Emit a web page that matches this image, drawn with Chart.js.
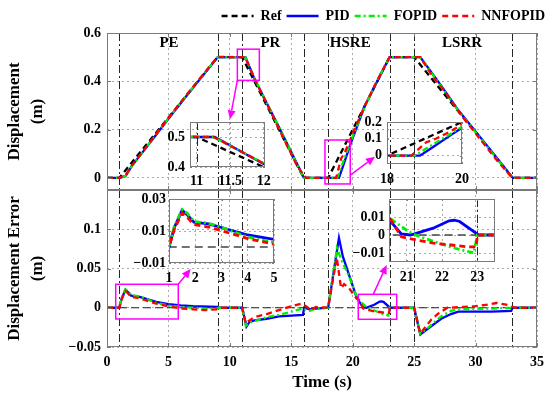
<!DOCTYPE html>
<html>
<head>
<meta charset="utf-8">
<script src="https://cdn.jsdelivr.net/npm/chart.js@4.4.1/dist/chart.umd.min.js"></script>
<style>
  body { margin: 0; background: #fff; }
  #wrap { position: relative; width: 550px; height: 395px; overflow: hidden; background: #fff; }
  canvas { position: absolute; }
</style>
</head>
<body>
<div id="wrap">
  <canvas id="dispChart" width="550" height="190" style="left:0;top:0"></canvas>
  <canvas id="errChart" width="550" height="205" style="left:0;top:190px"></canvas>
</div>
<script>
// ---- data: [time (s), value (m)] ----
const refDisp = [[0,0],[1,0],[9,0.5],[11,0.5],[16,0],[18,0],[23,0.5],[25,0.5],[33,0],[35,0]];
const pidDisp = [[0,0],[1,0],[1.5,0.007],[2,0.048],[3,0.113],[4,0.179],[5,0.245],[7,0.373],[9,0.499],[9.3,0.5],
  [11.27,0.5],[12,0.41],[14,0.21],[15.95,0.009],[16.05,0],[18.88,0],[19.2,0.047],[19.7,0.122],[20,0.165],
  [21,0.3],[22,0.4],[23,0.5],[25.5,0.5],[27.2,0.382],[28.6,0.28],[31.3,0.111],[32.95,0.005],[33.05,0],[35,0]];
const fopidDisp = [[0,0],[1,0],[1.5,0.007],[2,0.047],[3,0.113],[4,0.181],[5,0.247],[7,0.375],[9,0.5],
  [11.25,0.5],[12,0.413],[14,0.209],[15.9,0.011],[16,0],[18.75,0],[19.1,0.05],[19.7,0.13],[20,0.172],
  [21,0.297],[22,0.405],[23,0.5],[25.5,0.5],[27.2,0.379],[28.6,0.277],[31.3,0.107],[33,0],[35,0]];
const nnfopidDisp = [[0,0],[1,0],[1.5,0.01],[2,0.05],[3,0.115],[4,0.182],[5,0.248],[7,0.377],[9,0.501],
  [11.25,0.5],[12,0.412],[13,0.308],[14,0.203],[15.5,0.047],[16.2,0],[18.65,0],[19.05,0.08],[19.3,0.1],
  [19.7,0.145],[20,0.185],[21,0.3],[22,0.404],[23,0.5],[25.5,0.5],[26.4,0.428],[27.7,0.344],[29,0.249],
  [31.7,0.075],[33,0],[35,0]];

const refErr = [[0,0],[35,0]];
const pidErr = [[0,0],[1,0],[1.2,0.012],[1.5,0.023],[1.7,0.02],[1.95,0.0155],[2.5,0.0145],[3,0.0122],[4,0.0075],
  [5,0.0047],[6,0.003],[7,0.002],[9,0.001],[9.05,0],[11,0],[11.35,-0.024],[11.6,-0.018],[12,-0.016],[13,-0.014],
  [14,-0.011],[15,-0.01],[15.95,-0.009],[16.05,0],[16.5,-0.002],[17,-0.001],[18,0],[18.88,0.089],[19.2,0.065],
  [19.7,0.042],[20.3,0.014],[20.5,0.0085],[20.85,0.0006],[21.1,0],[21.2,0.0005],[21.75,0.0038],[22.2,0.0079],
  [22.35,0.0082],[22.5,0.0075],[23,0.0005],[23.02,0],[25,0],[25.5,-0.034],[26,-0.028],[27.2,-0.014],[28,-0.008],
  [28.6,-0.005],[31.3,-0.005],[32.9,-0.004],[33,0],[35,0]];
const fopidErr = [[0,0],[1,0],[1.2,0.013],[1.5,0.0234],[1.7,0.021],[1.95,0.016],[2.5,0.0148],[3,0.0124],[4,0.0062],
  [5,0.0028],[6,0.001],[7,0],[8,-0.001],[9,-0.001],[9.1,0],[11,0],[11.3,-0.023],[11.6,-0.019],[12,-0.017],
  [13,-0.012],[14,-0.009],[15,-0.005],[15.9,-0.001],[16.5,-0.004],[17,-0.001],[18,0],[18.72,0.076],[19.1,0.06],
  [19.7,0.04],[20.3,0.015],[20.5,0.0097],[21.05,0.0019],[21.3,-0.0004],[22.05,-0.0054],[22.5,-0.0081],
  [22.9,-0.0099],[23,0],[25,0],[25.5,-0.033],[26,-0.027],[27.2,-0.011],[28,-0.004],[28.6,-0.002],[31.3,-0.001],
  [33,0],[35,0]];
const nnfopidErr = [[0,0],[1,0],[1.2,0.011],[1.5,0.0213],[1.7,0.0185],[1.95,0.014],[2.5,0.0125],[3,0.0102],
  [4,0.0053],[5,0.0017],[6,-0.001],[7,-0.002],[8,-0.003],[9,-0.002],[9.3,0],[11,0],[11.3,-0.02],[11.6,-0.016],
  [12,-0.012],[13,-0.008],[14,-0.003],[15,0.002],[15.8,0.005],[16.2,0.002],[16.6,-0.003],[17,0.001],[18,0],
  [18.7,0.064],[19.05,0.025],[19.3,0.03],[19.7,0.025],[20.3,0.012],[20.5,0.01],[20.85,-0.001],[21.2,-0.0025],
  [21.8,-0.0047],[22.2,-0.0054],[22.7,-0.0066],[22.97,-0.0066],[23,0],[25,0],[25.5,-0.033],[26.4,-0.015],
  [27,-0.007],[27.7,0],[29,0.001],[30,0.002],[31,0.004],[31.7,0.006],[32.5,0.004],[33,0.001],[33.3,0],[35,0]];

const seriesNames = ['Ref', 'PID', 'FOPID', 'NNFOPID'];
const phaseBounds = [1, 9, 11, 16, 18, 23, 25, 33];
const phaseNames = ['PE', 'PR', 'HSRE', 'LSRR'];

const timeTicks = [0, 5, 10, 15, 20, 25, 30, 35];
const dispTicks = [0, 0.2, 0.4, 0.6];
const errTicks = [-0.05, 0, 0.05, 0.1];
const prTimeTicks = [11, 11.5, 12], prDispTicks = [0.4, 0.5];
const hsreTimeTicks = [18, 20], hsreDispTicks = [0, 0.1, 0.2];
const peTimeTicks = [1, 2, 3, 4, 5], peErrTicks = [-0.01, 0, 0.01, 0.02, 0.03];
const peErrLabels = ['\u22120.01', '0', '0.01', '', '0.03'];
const hsreErrTimeTicks = [21, 22, 23], hsreErrTicks = [-0.01, 0, 0.01];

// ---- styling ----
const serif = '"Liberation Serif", "Times New Roman", serif';
Chart.defaults.font.family = serif;
Chart.defaults.font.weight = 'bold';
Chart.defaults.font.size = 14;
Chart.defaults.color = '#000';

const gridColor = '#aaaaaa';
const styles = [
  { color: '#000000', dash: [6, 4], order: 3 },
  { color: '#0000ff', dash: [], order: 2 },
  { color: '#00ee00', dash: [6, 3, 2, 3], order: 1 },
  { color: '#ff0000', dash: [6, 4], order: 0 },
];

const fmt = v => String(+Number(v).toFixed(3)).replace('-', '\u2212');
const fixTicks = list => s => { s.ticks = list.map(v => ({ value: v })); };
const noPad = s => { s.paddingTop = s.paddingBottom = s.paddingLeft = s.paddingRight = 0; };

function lineSets(series, width, refStyle) {
  return series.map((d, i) => {
    const st = styles[i];
    const isRef = i === 0 && refStyle;
    return {
      label: seriesNames[i], data: d,
      borderColor: isRef ? refStyle.color : st.color, backgroundColor: st.color,
      borderDash: isRef ? refStyle.dash : st.dash, borderWidth: isRef ? refStyle.width : width,
      order: st.order, pointRadius: 0, tension: 0, fill: false,
    };
  });
}

// legend samples keep the dataset dash pattern
function legendLabels(chart) {
  return chart.data.datasets.map((ds, i) => ({
    text: ds.label, datasetIndex: i, hidden: false,
    strokeStyle: ds.borderColor, fillStyle: ds.borderColor,
    lineDash: ds.borderDash, lineWidth: 2.5, lineCap: 'butt', pointStyle: 'line'
  }));
}

// frame, inward ticks and phase boundary lines
const axesBox = {
  id: 'axesBox',
  beforeDatasetsDraw(chart, _a, o) {
    const { ctx, chartArea: a, scales: { x } } = chart;
    ctx.save();
    ctx.strokeStyle = '#262626'; ctx.lineWidth = 1; ctx.setLineDash([8, 3, 2, 3]);
    phaseBounds.forEach(t => {
      if (t <= x.min || t >= x.max) return;
      const px = Math.round(x.getPixelForValue(t)) + 0.5;
      ctx.beginPath(); ctx.moveTo(px, a.top); ctx.lineTo(px, a.bottom); ctx.stroke();
    });
    ctx.restore();
  },
  afterDatasetsDraw(chart, _a, o) {
    const { ctx, chartArea: a, scales: { x, y } } = chart;
    const len = o.tick || 4;
    ctx.save();
    ctx.strokeStyle = '#7a7a7a'; ctx.lineWidth = 1; ctx.setLineDash([]);
    ctx.beginPath();
    x.ticks.forEach(t => {
      const px = Math.round(x.getPixelForValue(t.value)) + 0.5;
      ctx.moveTo(px, a.bottom); ctx.lineTo(px, a.bottom - len);
      ctx.moveTo(px, a.top); ctx.lineTo(px, a.top + len);
    });
    y.ticks.forEach(t => {
      const py = Math.round(y.getPixelForValue(t.value)) + 0.5;
      ctx.moveTo(a.left, py); ctx.lineTo(a.left + len, py);
      ctx.moveTo(a.right, py); ctx.lineTo(a.right - len, py);
    });
    ctx.stroke();
    ctx.strokeRect(Math.round(a.left) + 0.5, Math.round(a.top) + 0.5,
      Math.round(a.right - a.left) - 1, Math.round(a.bottom - a.top) - 1);
    ctx.restore();
  }
};

// phase names, magenta zoom boxes and arrows (given in data coordinates)
const callouts = {
  id: 'callouts',
  afterDraw(chart, _a, o) {
    const { ctx, scales: { x, y } } = chart;
    const P = (t, v) => [x.getPixelForValue(t), y.getPixelForValue(v)];
    ctx.save();
    ctx.font = 'bold 15px ' + serif;
    ctx.fillStyle = '#000'; ctx.textAlign = 'center'; ctx.textBaseline = 'middle';
    (o.labels || []).forEach(l => { const [px, py] = P(l.x, l.y); ctx.fillText(l.text, px, py); });
    ctx.strokeStyle = '#ff00ff'; ctx.fillStyle = '#ff00ff'; ctx.lineWidth = 1.5;
    (o.boxes || []).forEach(b => {
      const [x0, y0] = P(b.x[0], b.y[1]);
      const [x1, y1] = P(b.x[1], b.y[0]);
      ctx.strokeRect(x0, y0, x1 - x0, y1 - y0);
      const [ax, ay] = P(b.from[0], b.from[1]);
      const [bx, by] = P(b.to[0], b.to[1]);
      const ang = Math.atan2(by - ay, bx - ax), hl = 9, hw = 4;
      const ex = bx - hl * Math.cos(ang), ey = by - hl * Math.sin(ang);
      ctx.beginPath(); ctx.moveTo(ax, ay); ctx.lineTo(ex, ey); ctx.stroke();
      ctx.beginPath(); ctx.moveTo(bx, by);
      ctx.lineTo(ex + hw * Math.sin(ang), ey - hw * Math.cos(ang));
      ctx.lineTo(ex - hw * Math.sin(ang), ey + hw * Math.cos(ang));
      ctx.closePath(); ctx.fill();
    });
    ctx.restore();
  }
};

const gridOpts = { color: gridColor, drawTicks: false };
const borderOpts = { display: false, dash: [2, 3] };
const base = { responsive: false, animation: false, events: [], devicePixelRatio: 1 };

// ---- top: displacement ----
new Chart(document.getElementById('dispChart'), {
  type: 'line',
  data: { datasets: lineSets([refDisp, pidDisp, fopidDisp, nnfopidDisp], 2.3) },
  options: {
    ...base,
    layout: { padding: { top: 4, left: 0, right: 0, bottom: 0 }, autoPadding: false },
    plugins: {
      legend: {
        position: 'top', align: 'end',
        labels: {
          usePointStyle: true, pointStyle: 'line', pointStyleWidth: 32, padding: 5,
          font: { size: 14, weight: 'bold' }, generateLabels: legendLabels
        }
      },
      tooltip: { enabled: false },
      axesBox: { tick: 4 },
      callouts: {
        labels: [
          { text: phaseNames[0], x: 5.05, y: 0.557 }, { text: phaseNames[1], x: 13.3, y: 0.557 },
          { text: phaseNames[2], x: 19.8, y: 0.557 }, { text: phaseNames[3], x: 28.9, y: 0.557 }
        ],
        boxes: [
          { x: [10.61, 12.4], y: [0.404, 0.533], from: [10.61, 0.404], to: [10.01, 0.243] },
          { x: [17.74, 19.8], y: [-0.025, 0.157], from: [19.8, 0.012], to: [21.81, 0.088] }
        ]
      }
    },
    scales: {
      x: {
        type: 'linear', min: 0, max: 35, afterBuildTicks: fixTicks(timeTicks),
        afterFit: s => { s.height = 0; noPad(s); },
        ticks: { display: false }, grid: gridOpts, border: borderOpts
      },
      y: {
        min: -0.05, max: 0.6, afterBuildTicks: fixTicks(dispTicks),
        afterFit: s => { s.width = 107; noPad(s); },
        ticks: { padding: 6, callback: fmt }, grid: gridOpts, border: borderOpts,
        title: { display: true, text: ['Displacement', '(m)'], font: { size: 17, lineHeight: 1.35 }, padding: { top: 3.5, bottom: 0 } }
      },
      yr: {
        type: 'linear', position: 'right', afterFit: s => { s.width = 13; noPad(s); },
        ticks: { display: false }, grid: { display: false }, border: { display: false }
      }
    }
  },
  plugins: [axesBox, callouts]
});

// ---- bottom: displacement error ----
new Chart(document.getElementById('errChart'), {
  type: 'line',
  data: { datasets: lineSets([refErr, pidErr, fopidErr, nnfopidErr], 2.3, { color: '#222', dash: [8, 4], width: 1.2 }) },
  options: {
    ...base,
    layout: { padding: { top: 0, left: 0, right: 13, bottom: 0 }, autoPadding: false },
    plugins: {
      legend: { display: false }, tooltip: { enabled: false },
      axesBox: { tick: 4 },
      callouts: {
        boxes: [
          { x: [0.71, 5.8], y: [-0.0143, 0.0299], from: [5.8, 0.0299], to: [6.81, 0.0494] },
          { x: [20.45, 23.58], y: [-0.0147, 0.0171], from: [21.67, 0.0171], to: [22.77, 0.0545] }
        ]
      }
    },
    scales: {
      x: {
        type: 'linear', min: 0, max: 35, afterBuildTicks: fixTicks(timeTicks),
        afterFit: s => { s.height = 48; noPad(s); },
        ticks: { padding: 7, callback: fmt }, grid: gridOpts, border: borderOpts,
        title: { display: true, text: 'Time (s)', font: { size: 17 }, padding: { top: 0, bottom: 2 } }
      },
      y: {
        min: -0.05, max: 0.15, afterBuildTicks: fixTicks(errTicks),
        afterFit: s => { s.width = 107; noPad(s); },
        ticks: { padding: 6, callback: fmt }, grid: gridOpts, border: borderOpts,
        title: { display: true, text: ['Displacement Error', '(m)'], font: { size: 17, lineHeight: 1.35 }, padding: { top: 3.5, bottom: 0 } }
      }
    }
  },
  plugins: [axesBox, callouts]
});

// ---- zoomed insets (transparent, laid over the main axes) ----
function addInset(box, xr, yr, xt, yt, yLabels, series, xPad, yPad) {
  const L = 50, T = 10, R = 8, B = 24;
  const cv = document.createElement('canvas');
  cv.width = L + box.w + R; cv.height = T + box.h + B;
  cv.style.left = (box.l - L) + 'px'; cv.style.top = (box.t - T) + 'px';
  document.getElementById('wrap').appendChild(cv);
  new Chart(cv, {
    type: 'line',
    data: { datasets: series },
    options: {
      ...base,
      layout: { padding: { top: T, left: 0, right: R, bottom: 0 }, autoPadding: false },
      plugins: { legend: { display: false }, tooltip: { enabled: false }, axesBox: { tick: 2 } },
      scales: {
        x: {
          type: 'linear', min: xr[0], max: xr[1], afterBuildTicks: fixTicks(xt),
          afterFit: s => { s.height = B; noPad(s); },
          ticks: { padding: xPad, callback: fmt }, grid: gridOpts, border: borderOpts
        },
        y: {
          min: yr[0], max: yr[1], afterBuildTicks: fixTicks(yt),
          afterFit: s => { s.width = L; noPad(s); },
          ticks: { padding: yPad, callback: (v, i) => yLabels ? yLabels[i] : fmt(v) },
          grid: gridOpts, border: borderOpts
        }
      }
    },
    plugins: [axesBox]
  });
}

const refErrStyle = { color: '#444', dash: [8, 5], width: 1.3 };
addInset({ l: 190, t: 122, w: 75, h: 45 }, [10.9, 12.02], [0.4, 0.55], prTimeTicks, prDispTicks, null,
  lineSets([refDisp, pidDisp, fopidDisp, nnfopidDisp], 2.3), 6, 5);
addInset({ l: 387, t: 122, w: 75, h: 42 }, [18, 20], [-0.05, 0.2], hsreTimeTicks, hsreDispTicks, null,
  lineSets([refDisp, pidDisp, fopidDisp, nnfopidDisp], 2.3), 7, 5);
addInset({ l: 169, t: 199, w: 105, h: 64 }, [1, 5], [-0.01, 0.03], peTimeTicks, peErrTicks, peErrLabels,
  lineSets([refErr, pidErr, fopidErr, nnfopidErr], 2.8, refErrStyle), 7, 3);
addInset({ l: 389, t: 199, w: 106, h: 63 }, [20.5, 23.5], [-0.015, 0.02], hsreErrTimeTicks, hsreErrTicks, null,
  lineSets([refErr, pidErr, fopidErr, nnfopidErr], 2.8, refErrStyle), 7, 4);
</script>
</body>
</html>
